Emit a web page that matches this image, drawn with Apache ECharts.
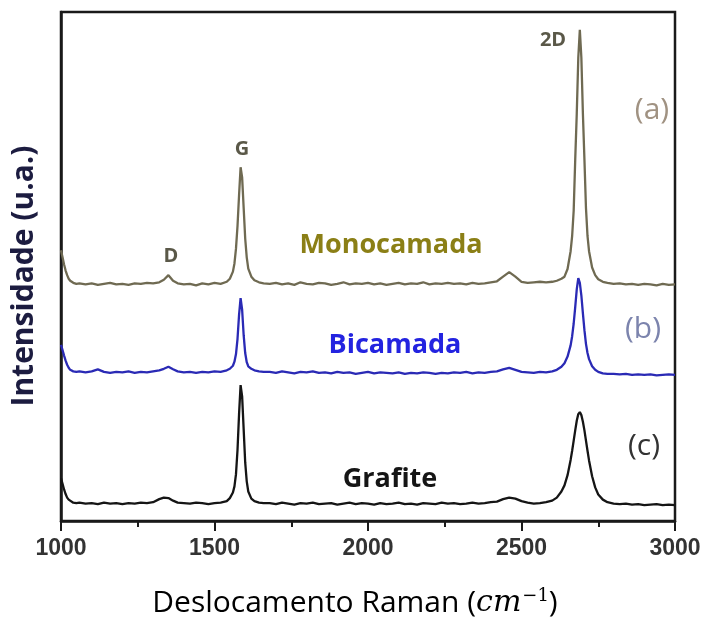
<!DOCTYPE html>
<html>
<head>
<meta charset="utf-8">
<script src="https://cdn.jsdelivr.net/npm/echarts@6/dist/echarts.min.js"></script>
<style>
  html, body { margin: 0; padding: 0; background: #fff; }
  #chart { width: 707px; height: 624px; }
</style>
</head>
<body>
<div id="chart"></div>
<script>
// Raman shift sample positions (cm^-1), shared by the three spectra
const ramanShift = [
  1000,1005,1010,1015,1020,1025,1030,1040,1050,1060,
  1080,1100,1120,1140,1160,1180,1200,1220,1240,1260,1280,1300,
  1320,1335,1350,1365,1380,1400,
  1420,1440,1460,1480,1500,1520,1540,
  1550,1560,1565,1570,1575,1580,1585,1590,1595,1600,1605,1610,1620,1630,1645,1660,
  1680,1700,1720,1740,1760,1780,1800,1820,1840,1860,1880,1900,1920,1940,1960,1980,
  2000,2020,2040,2060,2080,2100,2120,2140,2160,2180,2200,2220,2240,2260,2280,2300,
  2320,2340,2360,2380,2400,
  2420,2440,2460,2480,2500,
  2520,2540,2560,2580,2600,2615,2630,2640,2650,2660,2665,2670,2675,2680,2685,2690,
  2695,2700,2705,2710,2715,2720,2730,2740,2750,2765,2780,
  2800,2820,2840,2860,2880,2900,2920,2940,2960,2980,3000
];

// (a) Monocamada — intensity (a.u., vertically offset)
const monocamada = [
  53.2,51.8,50.4,49.2,48.3,47.6,47.2,46.8,46.6,46.7,
  46.5,46.7,46.4,46.6,46.8,46.5,46.6,46.4,46.7,46.6,46.8,46.7,
  46.9,47.4,48.3,47.2,46.7,46.5,
  46.6,46.3,46.7,46.5,46.8,46.6,47.0,
  47.6,49.0,50.6,53.5,58.0,64.0,69.5,67.5,61.5,55.5,51.8,49.6,48.0,47.3,46.9,46.7,
  46.6,46.8,46.5,46.7,46.4,46.9,46.6,46.5,46.8,46.7,46.4,46.6,46.9,46.5,46.7,46.6,
  46.8,46.5,46.7,46.4,46.6,46.8,46.5,46.7,46.6,46.9,46.5,46.7,46.6,46.8,46.6,46.7,
  46.5,46.8,46.6,46.7,46.9,
  47.1,48.0,48.9,48.0,47.0,
  46.8,46.9,47.0,46.9,47.0,47.2,47.6,48.0,49.5,53.0,56.0,61.0,71.0,80.0,91.0,96.5,
  91.0,80.0,71.0,61.5,56.0,53.0,49.8,48.3,47.5,47.0,46.8,
  46.6,46.7,46.5,46.6,46.4,46.6,46.5,46.3,46.6,46.4,46.5
];

// (b) Bicamada
const bicamada = [
  34.6,33.6,32.5,31.5,30.7,30.1,29.7,29.4,29.3,29.4,
  29.2,29.4,29.8,29.3,29.1,29.3,29.2,29.4,29.1,29.3,29.2,29.4,
  29.6,29.9,30.3,29.8,29.4,29.2,
  29.3,29.1,29.3,29.2,29.4,29.3,29.6,
  29.9,30.5,31.3,32.8,35.8,40.5,43.8,41.5,36.5,33.0,31.2,30.4,29.9,29.6,29.4,29.3,
  29.3,29.1,29.4,29.2,29.0,29.3,29.2,29.4,29.1,29.2,29.0,29.3,29.1,29.2,28.9,29.1,
  29.3,29.0,29.2,29.1,29.0,29.2,28.9,29.1,29.0,29.2,29.1,28.9,29.1,29.0,29.2,29.1,
  29.3,29.0,29.2,29.1,29.3,
  29.4,29.8,30.1,29.7,29.3,
  29.2,29.1,29.3,29.2,29.4,29.7,30.3,31.0,32.3,34.5,36.3,38.8,42.0,45.5,47.7,46.8,
  44.3,40.8,37.5,34.8,33.0,31.8,30.4,29.7,29.3,29.0,28.9,
  28.9,28.8,28.9,28.7,28.8,28.7,28.8,28.6,28.7,28.8,28.7
];

// (c) Grafite
const grafite = [
  8.4,7.3,6.2,5.3,4.6,4.2,3.9,3.6,3.5,3.6,
  3.4,3.5,3.3,3.6,3.4,3.5,3.3,3.5,3.4,3.6,3.5,3.7,
  4.3,4.6,4.5,4.0,3.6,3.5,
  3.4,3.6,3.5,3.3,3.5,3.6,3.9,
  4.5,5.6,6.8,9.2,14.0,21.0,26.7,24.5,18.0,11.5,7.8,5.8,4.4,3.9,3.6,3.5,
  3.5,3.3,3.6,3.4,3.2,3.5,3.4,3.6,3.3,3.4,3.5,3.2,3.4,3.6,3.3,3.5,
  3.4,3.2,3.5,3.3,3.4,3.6,3.3,3.4,3.2,3.5,3.4,3.3,3.6,3.4,3.5,3.3,
  3.4,3.6,3.4,3.5,3.7,
  3.8,4.3,4.6,4.4,3.9,
  3.6,3.4,3.5,3.7,4.0,4.6,5.8,7.0,9.0,12.0,13.8,15.8,17.8,19.7,21.0,21.4,
  20.8,19.5,17.8,15.8,13.8,11.9,8.8,6.6,5.2,4.2,3.7,
  3.4,3.3,3.4,3.2,3.3,3.1,3.2,3.3,3.1,3.2,3.1
];

const xTicks = [1000, 1500, 2000, 2500, 3000];
const seriesNames = ['Monocamada', 'Bicamada', 'Grafite'];
const seriesTags = ['(a)', '(b)', '(c)'];
const peakNames = ['D', 'G', '2D'];

function pairs(values) {
  return ramanShift.map((x, i) => [x, values[i]]);
}

const chart = echarts.init(document.getElementById('chart'), null, { renderer: 'canvas' });

const sans = '"Open Sans", "Noto Sans", sans-serif';

// centred text annotation
function label(text, x, y, color, size, weight) {
  return {
    type: 'text', x: x, y: y,
    style: {
      text: text, fill: color,
      font: (weight || 'bold') + ' ' + size + 'px ' + sans,
      textAlign: 'center', textVerticalAlign: 'middle'
    }
  };
}

chart.setOption({
  backgroundColor: '#ffffff',
  animation: false,
  grid: {
    left: 61, right: 32, top: 12, bottom: 103,
    show: true, borderColor: '#1a1a1a', borderWidth: 2.5
  },
  xAxis: {
    type: 'value', min: 1000, max: 3000, interval: 500,
    axisLine: { show: true, onZero: false, lineStyle: { color: '#1a1a1a', width: 2.5 } },
    axisTick: { show: true, length: 10, lineStyle: { color: '#1a1a1a', width: 2 } },
    minorTick: { show: true, splitNumber: 2, length: 6, lineStyle: { color: '#1a1a1a', width: 2 } },
    splitLine: { show: false },
    axisLabel: {
      margin: 16, color: '#333333', fontSize: 23, fontWeight: 'bold',
      fontFamily: '"Liberation Sans", Arial, sans-serif',
      formatter: v => (xTicks.indexOf(v) >= 0 ? String(v) : '')
    }
  },
  yAxis: {
    type: 'value', min: 0, max: 100,
    axisLine: { show: true, lineStyle: { color: '#1a1a1a', width: 2.5 } },
    axisTick: { show: false },
    axisLabel: { show: false },
    splitLine: { show: false }
  },
  series: [
    { name: seriesNames[0], type: 'line', data: pairs(monocamada), showSymbol: false,
      lineStyle: { color: '#6f6a52', width: 2.3 } },
    { name: seriesNames[1], type: 'line', data: pairs(bicamada), showSymbol: false,
      lineStyle: { color: '#2a2ab5', width: 2.3 } },
    { name: seriesNames[2], type: 'line', data: pairs(grafite), showSymbol: false,
      lineStyle: { color: '#151515', width: 2.3 } }
  ],
  graphic: [
    // peak names
    label(peakNames[0], 171, 256, '#5a5848', 20),
    label(peakNames[1], 242, 149, '#5a5848', 20),
    label(peakNames[2], 553, 40, '#5a5848', 20),
    // sample names
    label(seriesNames[0], 391, 245, '#8b7f16', 27),
    label(seriesNames[1], 395, 345, '#2323e0', 27),
    label(seriesNames[2], 390, 479, '#151515', 27),
    // panel tags
    label(seriesTags[0], 652, 110, '#a09282', 30, 'normal'),
    label(seriesTags[1], 643, 329, '#7c84ad', 30, 'normal'),
    label(seriesTags[2], 644, 446, '#333333', 30, 'normal'),
    // y axis title
    {
      type: 'text', x: 24, y: 276, rotation: Math.PI / 2,
      style: {
        text: 'Intensidade (u.a.)', fill: '#1c1c40',
        font: 'bold 30px ' + sans,
        textAlign: 'center', textVerticalAlign: 'middle'
      }
    },
    // x axis title
    {
      type: 'text', x: 355, y: 603,
      style: {
        text: '{t|Deslocamento Raman (}{m|cm}{s|−1}{t|)}',
        textAlign: 'center', textVerticalAlign: 'middle',
        rich: {
          t: { fontSize: 30, fontFamily: sans, color: '#111' },
          m: { fontSize: 30, fontStyle: 'italic', fontFamily: '"DejaVu Serif", serif', color: '#111' },
          s: { fontSize: 18, fontFamily: '"DejaVu Serif", serif', color: '#111', verticalAlign: 'top', padding: [0, 0, 14, 1] }
        }
      }
    }
  ]
});
</script>
</body>
</html>
